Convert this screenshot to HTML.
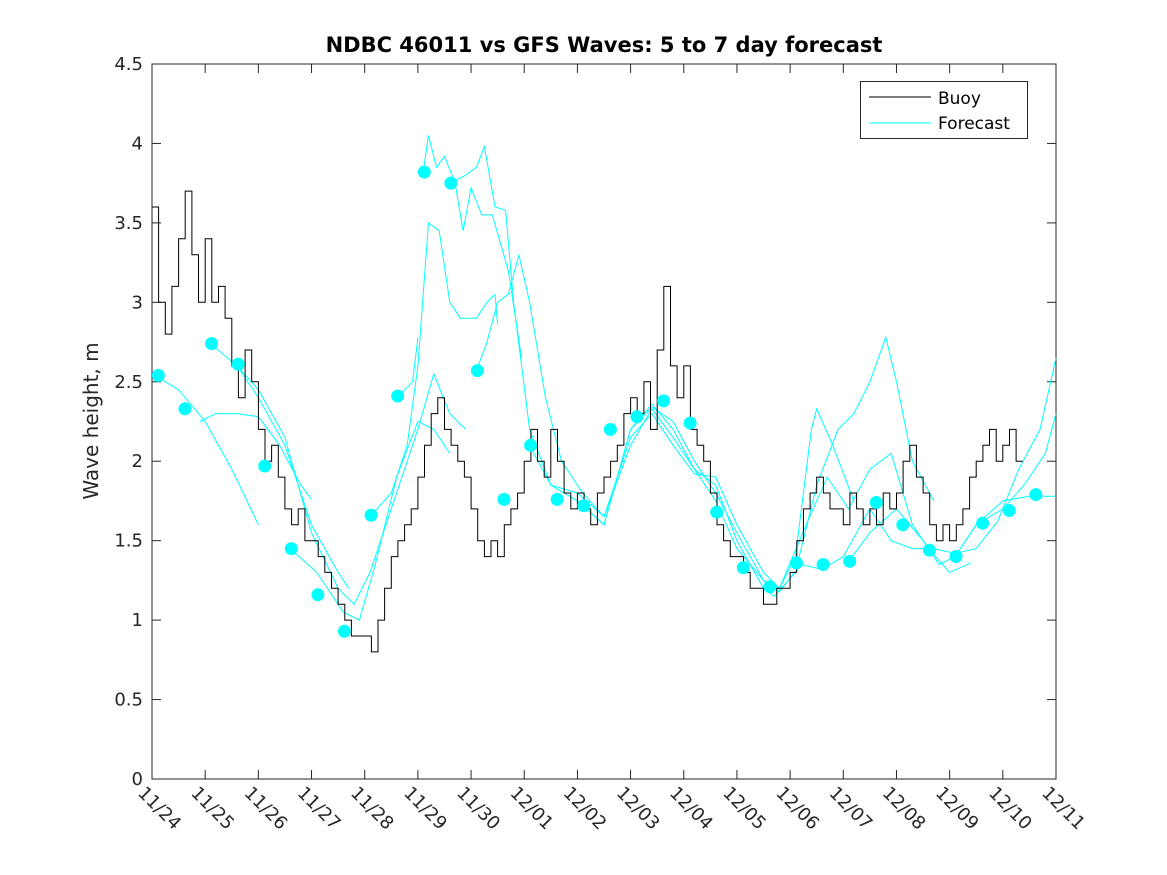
<!DOCTYPE html>
<html><head><meta charset="utf-8"><style>
html,body{margin:0;padding:0;background:#fff;}
svg{display:block;font-family:"DejaVu Sans","Liberation Sans",sans-serif;}
</style></head><body>
<svg id="chart" width="1167" height="875" viewBox="0 0 1167 875">
<rect x="0" y="0" width="1167" height="875" fill="#fff"/>
<g id="plot"></g>
</svg>
<script>
const dayLabels=["11/24","11/25","11/26","11/27","11/28","11/29","11/30","12/01","12/02","12/03","12/04","12/05","12/06","12/07","12/08","12/09","12/10","12/11"];
const yTicks=[0,0.5,1,1.5,2,2.5,3,3.5,4,4.5];
// buoy, 3-hourly from 11/24 00:00
const buoy=[3.6,3.0,2.8,3.1,3.4,3.7,3.3,3.0,
3.4,3.0,3.1,2.9,2.6,2.4,2.7,2.5,
2.2,2.0,2.1,1.9,1.7,1.6,1.7,1.5,
1.5,1.4,1.3,1.2,1.1,1.0,0.9,0.9,
0.9,0.8,1.0,1.2,1.4,1.5,1.6,1.7,
1.9,2.1,2.3,2.4,2.2,2.1,2.0,1.9,
1.7,1.5,1.4,1.5,1.4,1.6,1.7,1.8,
2.0,2.2,2.0,1.9,2.2,2.0,1.8,1.7,
1.8,1.7,1.6,1.8,1.9,2.0,2.1,2.3,
2.4,2.3,2.5,2.2,2.7,3.1,2.6,2.4,
2.6,2.2,2.1,2.0,1.8,1.6,1.5,1.4,
1.4,1.3,1.2,1.2,1.1,1.1,1.2,1.2,
1.3,1.5,1.7,1.8,1.9,1.8,1.7,1.7,
1.6,1.8,1.7,1.6,1.7,1.6,1.8,1.7,
1.8,2.0,2.1,1.9,1.8,1.6,1.5,1.6,
1.5,1.6,1.7,1.9,2.0,2.1,2.2,2.0,
2.1,2.2,2.0];
// forecast runs: [day, value]
const runA=[[0,2.55],[0.5,2.45],[1,2.25],[1.5,1.95],[2,1.6]];
const runB=[[0.9,2.25],[1.2,2.3],[1.6,2.3],[2,2.28],[2.4,2.1],[2.8,1.85],[3,1.76]];
const runC=[[1.1,2.74],[1.6,2.6],[2,2.4],[2.5,2.1],[3,1.6],[3.5,1.3],[3.7,1.2]];
const runD=[[1.6,2.6],[2,2.45],[2.5,2.15],[3,1.55],[3.5,1.2],[3.8,1.1],[4.1,1.3],[4.6,1.8],[5.0,2.2],[5.3,2.55],[5.6,2.3],[5.9,2.2]];
const runE=[[2.6,1.45],[3.1,1.3],[3.6,1.05],[3.9,1.0],[4.2,1.35],[4.6,1.9],[5.0,2.25],[5.3,2.2],[5.6,2.05]];
const runF=[[4.1,1.65],[4.5,1.8],[4.8,2.1],[5.0,2.6],[5.2,3.5],[5.4,3.45],[5.6,3.0],[5.8,2.9],[6.1,2.9],[6.3,3.0],[6.45,3.05],[6.5,2.86]];
const runG=[[4.6,2.4],[4.9,2.5],[5.0,2.78]];
const runH=[[5.1,3.82],[5.2,4.05],[5.35,3.85],[5.5,3.92],[5.7,3.75],[5.85,3.45],[6.0,3.72],[6.2,3.55],[6.4,3.55],[6.7,3.2],[6.95,2.65]];
const runI=[[6.1,2.57],[6.3,2.75],[6.5,3.0],[6.7,3.05],[6.9,3.3],[7.1,3.0],[7.4,2.4],[7.7,2.0],[8.1,1.8],[8.5,1.65],[9.0,2.1],[9.4,2.33],[9.8,2.15],[10.2,1.95],[10.6,1.75],[11.0,1.45],[11.5,1.25],[11.8,1.2],[12.1,1.4],[12.4,2.2],[12.5,2.33],[12.8,2.1],[13.2,1.75]];
const runJ=[[5.6,3.75],[5.9,3.8],[6.1,3.85],[6.25,3.98],[6.45,3.6],[6.65,3.58],[6.8,3.0],[7.1,2.2],[7.5,1.85],[8.0,1.75],[8.5,1.6],[9.0,2.2],[9.4,2.36],[9.8,2.2],[10.2,1.95],[10.6,1.85],[11.0,1.5],[11.5,1.2],[11.7,1.15],[12.1,1.3],[12.5,1.85],[12.9,2.2],[13.2,2.3],[13.5,2.5],[13.8,2.78],[14.0,2.5],[14.3,2.0],[14.7,1.75]];
const runK=[[7.1,2.1],[7.5,1.85],[8.0,1.8],[8.5,1.65],[9.0,2.15],[9.4,2.3],[9.8,2.1],[10.2,1.92],[10.6,1.9],[11.0,1.6],[11.5,1.3],[11.8,1.2],[12.3,1.6],[12.7,1.9],[13.1,1.7],[13.5,1.95],[13.9,2.05],[14.3,1.6],[14.6,1.45],[15.0,1.3],[15.4,1.36]];
const runL=[[8.1,1.72],[8.5,1.6],[9.0,2.2],[9.4,2.34],[9.8,2.25],[10.2,2.0],[10.6,1.8],[11.0,1.55],[11.5,1.25],[11.8,1.18],[12.2,1.35],[12.6,1.32],[13.0,1.4],[13.5,1.7],[13.9,1.5],[14.3,1.45],[14.7,1.45],[15.1,1.42],[15.5,1.45],[15.9,1.62],[16.3,1.95],[16.7,2.2],[17,2.65]];
const runM=[[13.1,1.37],[13.5,1.55],[14.0,1.7],[14.5,1.5],[14.8,1.35],[15.1,1.4],[15.5,1.6],[16.0,1.7],[16.4,1.85],[16.8,2.05],[17,2.3]];
const runN=[[15.1,1.4],[15.5,1.6],[16.0,1.75],[16.5,1.78],[17,1.78]];
const forecastRuns=[runA,runB,runC,runD,runE,runF,runG,runH,runI,runJ,runK,runL,runM,runN];
const dotValues=[2.54,2.33,2.74,2.61,1.97,1.45,1.16,0.93,1.66,2.41,3.82,3.75,2.57,1.76,2.10,1.76,1.72,2.20,2.28,2.38,2.24,1.68,1.33,1.21,1.36,1.35,1.37,1.74,1.60,1.44,1.40,1.61,1.69,1.79];

const NS="http://www.w3.org/2000/svg";
const L=152,R=1056,T=64,B=779;
const xs=d=>L+d/17*(R-L);
const ys=v=>B-v/4.5*(B-T);
const g=document.getElementById('plot');
function mk(tag,attrs,parent){const e=document.createElementNS(NS,tag);for(const k in attrs)e.setAttribute(k,attrs[k]);(parent||g).appendChild(e);return e;}

const box=mk('rect',{x:L,y:T,width:R-L,height:B-T,fill:'#fff',stroke:'#262626','stroke-width':1});



yTicks.forEach(v=>{
  const y=ys(v);
  mk('line',{x1:L,x2:L+9,y1:y,y2:y,stroke:'#262626'});
  mk('line',{x1:R,x2:R-9,y1:y,y2:y,stroke:'#262626'});
  const t=mk('text',{x:L-9,y:y+6,'text-anchor':'end','font-size':18,fill:'#262626'});
  t.textContent=String(v);
  
  
});
dayLabels.forEach((lab,i)=>{
  const x=xs(i);
  mk('line',{x1:x,x2:x,y1:B,y2:B-9,stroke:'#262626'});
  mk('line',{x1:x,x2:x,y1:T,y2:T+9,stroke:'#262626'});
  const t=mk('text',{x:0,y:0,'font-size':18,fill:'#262626',transform:`translate(${x-15},${B+15}) rotate(45)`});
  t.textContent=lab;
  
  
});

forecastRuns.forEach(run=>{
  const p=mk('polyline',{points:run.map(q=>xs(q[0]).toFixed(1)+','+ys(q[1]).toFixed(1)).join(' '),fill:'none',stroke:'#00ffff','stroke-width':1});
  
  
});
let pts=[];
buoy.forEach((v,i)=>{const d=i/8;pts.push(xs(d).toFixed(1)+','+ys(v).toFixed(1));pts.push(xs(d+0.125).toFixed(1)+','+ys(v).toFixed(1));});
const bl=mk('polyline',{points:pts.join(' '),fill:'none',stroke:'#000','stroke-width':1});


dotValues.forEach((v,i)=>{
  const c=mk('circle',{cx:xs(0.12+0.5*i),cy:ys(v),r:6.5,fill:'#00ffff'});
  
  
});
const lg=mk('g',{});


mk('rect',{x:860.5,y:81.5,width:167,height:57,fill:'#fff',stroke:'#262626'},lg);
mk('line',{x1:869,x2:931,y1:97,y2:97,stroke:'#000'},lg);
mk('line',{x1:869,x2:931,y1:123,y2:123,stroke:'#00ffff'},lg);
const t1=mk('text',{x:938,y:104,'font-size':17,fill:'#000'},lg);t1.textContent='Buoy';


const t2=mk('text',{x:938,y:129,'font-size':17,fill:'#000'},lg);t2.textContent='Forecast';


const tt=mk('text',{x:604,y:52,'text-anchor':'middle','font-size':21,'font-weight':'bold',fill:'#000'});
tt.textContent='NDBC 46011 vs GFS Waves: 5 to 7 day forecast';


const yl=mk('text',{x:0,y:0,'text-anchor':'middle','font-size':20,fill:'#262626',transform:'translate(98,421) rotate(-90)'});
yl.textContent='Wave height, m';


</script>
</body></html>
